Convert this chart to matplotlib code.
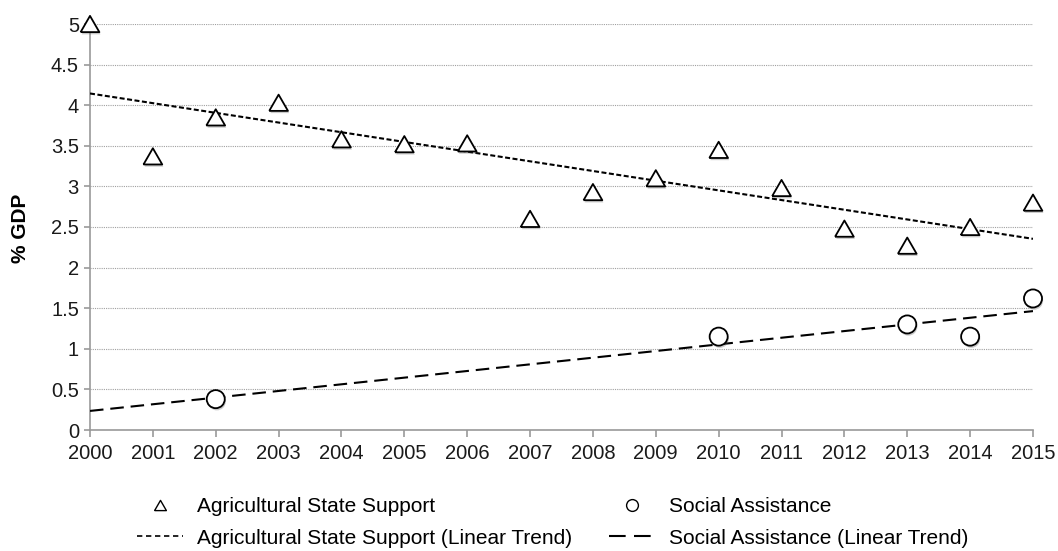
import matplotlib.pyplot as plt
import matplotlib.patheffects as pe
from matplotlib.lines import Line2D
import numpy as np

# data
years = list(range(2000, 2016))
agri_support = [5.0, 3.37, 3.85, 4.03, 3.58, 3.52, 3.53, 2.6, 2.93, 3.1,
                3.45, 2.98, 2.48, 2.27, 2.5, 2.8]
social_years = [2002, 2010, 2013, 2014, 2015]
social_assist = [0.38, 1.15, 1.3, 1.15, 1.62]
y_ticks = [0, 0.5, 1, 1.5, 2, 2.5, 3, 3.5, 4, 4.5, 5]
y_tick_labels = ['0', '0.5', '1', '1.5', '2', '2.5', '3', '3.5', '4', '4.5', '5']

plt.rcParams['font.family'] = ['Liberation Sans', 'DejaVu Sans']

# Excel-style triangle: equilateral, centred on its bounding box
tri = [(-1, -0.866), (1, -0.866), (0, 0.866), (-1, -0.866)]

fig = plt.figure(figsize=(10.58, 5.51), dpi=100)
ax = fig.add_axes([90 / 1058, 1 - 430 / 551, (1033 - 90) / 1058, (430 - 24) / 551])

shadow = [pe.SimplePatchShadow(offset=(0.8, -1.6), shadow_rgbFace='#555555', alpha=0.3),
          pe.Normal()]

# linear trends, fitted from the data like Excel does
fit_a = np.polyfit(years, agri_support, 1)
fit_s = np.polyfit(social_years, social_assist, 1)
yrs = np.array([years[0], years[-1]])
dot_style = (0, (2.4, 1.2))
dash_style = (0, (6.5, 3.3))
ax.plot(yrs, np.polyval(fit_a, yrs), color='black', lw=1.5, linestyle=dot_style, zorder=3)
ax.plot(yrs, np.polyval(fit_s, yrs), color='black', lw=1.5, linestyle=dash_style, zorder=3)

ax.plot(years, agri_support, linestyle='none', marker=tri, markersize=13.5,
        markerfacecolor='white', markeredgecolor='black', markeredgewidth=1.3,
        zorder=4, clip_on=False, path_effects=shadow)
ax.plot(social_years, social_assist, linestyle='none', marker='o', markersize=13,
        markerfacecolor='white', markeredgecolor='black', markeredgewidth=1.3,
        zorder=4, clip_on=False, path_effects=shadow)

ax.set_xlim(2000, 2015)
ax.set_ylim(0, 5)
ax.set_xticks(years)
ax.set_xticklabels([str(y) for y in years])
ax.set_yticks(y_ticks)
ax.set_yticklabels(y_tick_labels)
ax.tick_params(axis='both', labelsize=14.5, colors='#999999', labelcolor='#1a1a1a',
               length=5, width=1.2)
ax.tick_params(axis='x', pad=5)
ax.tick_params(axis='y', length=4, pad=4)

ax.grid(axis='y', linestyle=(0, (1, 1)), color='#a0a0a0', lw=0.8)
ax.set_axisbelow(True)
for s in ['top', 'right']:
    ax.spines[s].set_visible(False)
for s in ['left', 'bottom']:
    ax.spines[s].set_color('#999999')
    ax.spines[s].set_linewidth(1.2)

fig.text(20 / 1058, 1 - 228 / 551, '% GDP', rotation=90, ha='center', va='center',
         fontsize=15, fontweight='bold')

# legend, two columns below the plot
h1 = Line2D([], [], linestyle='none', marker=tri, markersize=8.5,
            markerfacecolor='white', markeredgecolor='black', markeredgewidth=1)
h2 = Line2D([], [], linestyle='none', marker='o', markersize=8.5,
            markerfacecolor='white', markeredgecolor='black', markeredgewidth=1)
h3 = Line2D([], [], color='black', lw=1.2, linestyle=(0, (3.2, 2.2)))
h4 = Line2D([], [], color='black', lw=1.5, linestyle=(0, (8, 4)))

fig.legend([h1, h3, h2, h4],
           ['Agricultural State Support', 'Agricultural State Support (Linear Trend)',
            'Social Assistance', 'Social Assistance (Linear Trend)'],
           loc='center left', bbox_to_anchor=(137 / 1058, 1 - 522.5 / 551),
           ncol=2, frameon=False, fontsize=15, handlelength=2.2,
           handletextpad=0.67, columnspacing=1.8, labelspacing=0.6,
           borderpad=0, borderaxespad=0)

fig.savefig('out.png', dpi=100)
